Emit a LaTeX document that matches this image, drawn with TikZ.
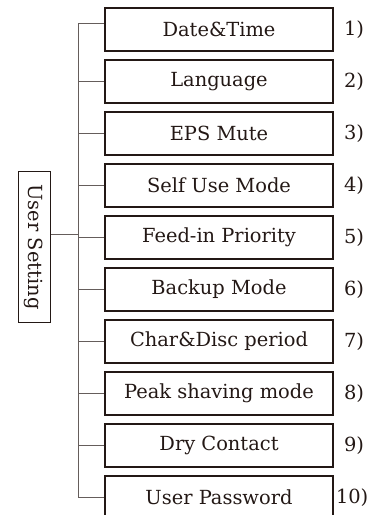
\documentclass[tikz,border=0pt]{standalone}
\usepackage{fontspec}
\setmainfont{DejaVu Serif}
\usepackage{tikz}
\usetikzlibrary{positioning}
\usepackage{xcolor}
\definecolor{ink}{HTML}{231815}

\begin{document}
\begin{tikzpicture}[x=1bp, y=-1bp,
    menuItem/.style={rectangle, draw=ink, line width=1.6bp, text=ink, minimum width=228bp, minimum height=43bp, inner sep=0pt, font=\fontsize{19.5}{22}\selectfont},
    itemNum/.style={text=ink, inner sep=0pt, font=\fontsize{19.5}{22}\selectfont},
    rootBox/.style={rectangle, draw=ink, line width=1bp, text=ink, rotate=-90, minimum width=150bp, minimum height=32bp, inner sep=0pt, font=\fontsize{19.5}{22}\selectfont},
    bus/.style={draw=ink!70, line width=1bp}
]
    \useasboundingbox (0,0) rectangle (378,515);

    % menu entries
    \node[menuItem] (dt) at (219,29.5) {Date\&Time};
    \node[menuItem] (lang) at (219,81.5) {Language};
    \node[menuItem] (eps) at (219,133.5) {EPS Mute};
    \node[menuItem] (self) at (219,185.5) {Self Use Mode};
    \node[menuItem] (feed) at (219,237.5) {Feed-in Priority};
    \node[menuItem] (backup) at (219,289.5) {Backup Mode};
    \node[menuItem] (char) at (219,341.5) {Char\&Disc period};
    \node[menuItem] (peak) at (219,393.5) {Peak shaving mode};
    \node[menuItem] (dry) at (219,445.5) {Dry Contact};
    \node[menuItem] (pwd) at (219,497.5) {User Password};

    \node[itemNum, right=10bp of dt] (n1) {1)};
    \node[itemNum, right=10bp of lang] (n2) {2)};
    \node[itemNum, right=10bp of eps] (n3) {3)};
    \node[itemNum, right=10bp of self] (n4) {4)};
    \node[itemNum, right=10bp of feed] (n5) {5)};
    \node[itemNum, right=10bp of backup] (n6) {6)};
    \node[itemNum, right=10bp of char] (n7) {7)};
    \node[itemNum, right=10bp of peak] (n8) {8)};
    \node[itemNum, right=10bp of dry] (n9) {9)};
    \node[itemNum, right=2bp of pwd] (n10) {10)};

    % root and bus
    \node[rootBox] (us) at (34,247) {User Setting};
    \coordinate (busTop) at (78,24);
    \coordinate (busBot) at (78,497.5);
    \draw[bus] (busTop) -- (busBot);
    \draw[bus] ([yshift=13bp]us.north) -- +(28,0);
    \draw[bus] (busTop) -- (busTop -| dt.west);
    \draw[bus] (lang.west -| busTop) -- (lang.west);
    \draw[bus] (eps.west -| busTop) -- (eps.west);
    \draw[bus] (self.west -| busTop) -- (self.west);
    \draw[bus] (feed.west -| busTop) -- (feed.west);
    \draw[bus] (backup.west -| busTop) -- (backup.west);
    \draw[bus] (char.west -| busTop) -- (char.west);
    \draw[bus] (peak.west -| busTop) -- (peak.west);
    \draw[bus] (dry.west -| busTop) -- (dry.west);
    \draw[bus] (busBot) -- (pwd.west);
\end{tikzpicture}
\end{document}
